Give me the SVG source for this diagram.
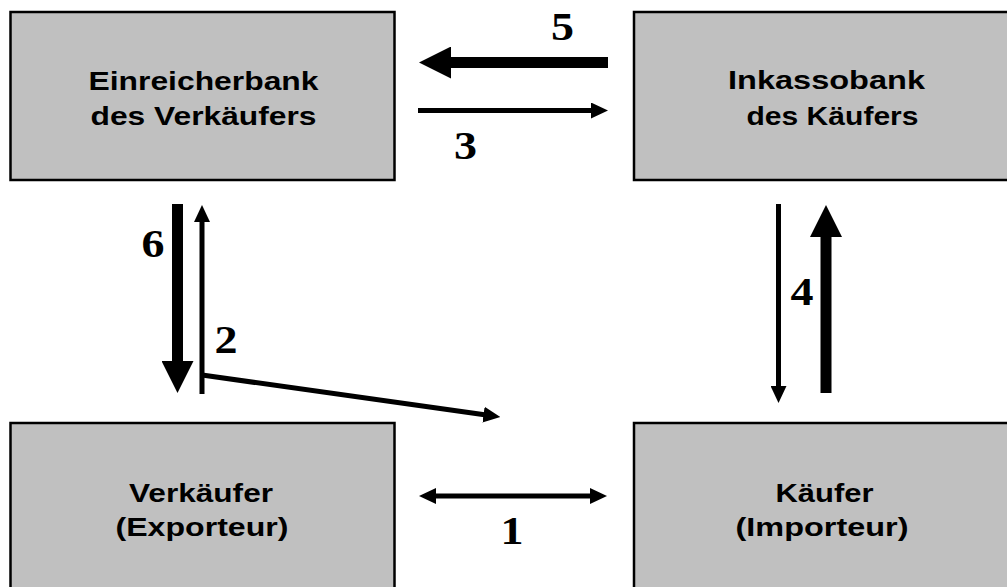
<svg xmlns="http://www.w3.org/2000/svg" width="1007" height="587" viewBox="0 0 1007 587">
  <style>
    .box { fill: #c0c0c0; stroke: #000; stroke-width: 2.5; }
    .lbl { font-family: "Liberation Sans", Arial, sans-serif; font-weight: bold; font-size: 26px; fill: #000; }
    .num { font-family: "Liberation Serif", "Times New Roman", serif; font-weight: bold; font-size: 40px; fill: #000; text-anchor: middle; }
    .thin { stroke: #000; stroke-width: 5; fill: none; }
    .thick { stroke: #000; stroke-width: 11; fill: none; }
  </style>
  <defs>
    <marker id="headThin" markerUnits="userSpaceOnUse" viewBox="0 -8 17 16" markerWidth="17" markerHeight="16" refX="1" refY="0" orient="auto-start-reverse">
      <path d="M0,-8 L17,0 L0,8 Z" fill="#000"/>
    </marker>
    <marker id="headThick" markerUnits="userSpaceOnUse" viewBox="0 -16 32 32" markerWidth="32" markerHeight="32" refX="1" refY="0" orient="auto-start-reverse">
      <path d="M0,-16 L32,0 L0,16 Z" fill="#000"/>
    </marker>
  </defs>
  <rect width="1007" height="587" fill="#fff"/>

  <g id="einreicherbank">
    <rect class="box" x="10.5" y="12" width="384" height="168"/>
    <text class="lbl" x="88.5" y="90" textLength="230" lengthAdjust="spacingAndGlyphs">Einreicherbank</text>
    <text class="lbl" x="90.5" y="125" textLength="226" lengthAdjust="spacingAndGlyphs">des Verkäufers</text>
  </g>

  <g id="inkassobank">
    <rect class="box" x="634" y="12" width="400" height="168"/>
    <text class="lbl" x="728" y="89" textLength="197" lengthAdjust="spacingAndGlyphs">Inkassobank</text>
    <text class="lbl" x="746.5" y="125" textLength="172" lengthAdjust="spacingAndGlyphs">des Käufers</text>
  </g>

  <g id="verkaeufer">
    <rect class="box" x="10.5" y="423" width="384" height="200"/>
    <text class="lbl" x="129" y="502" textLength="144" lengthAdjust="spacingAndGlyphs">Verkäufer</text>
    <text class="lbl" x="115.5" y="536" textLength="173" lengthAdjust="spacingAndGlyphs">(Exporteur)</text>
  </g>

  <g id="kaeufer">
    <rect class="box" x="634" y="423" width="400" height="200"/>
    <text class="lbl" x="775.5" y="502" textLength="98" lengthAdjust="spacingAndGlyphs">Käufer</text>
    <text class="lbl" x="735.5" y="536" textLength="173" lengthAdjust="spacingAndGlyphs">(Importeur)</text>
  </g>

  <g id="connectors">
    <!-- 1: contract between seller and buyer -->
    <line class="thin" x1="435" y1="496" x2="591" y2="496" marker-start="url(#headThin)" marker-end="url(#headThin)"/>
    <!-- 2: documents handed to the remitting bank, goods shipped -->
    <line class="thin" x1="202" y1="394" x2="202" y2="221" marker-end="url(#headThin)"/>
    <line class="thin" x1="202" y1="375" x2="484.5" y2="414.8" stroke-width="4.5" marker-end="url(#headThin)"/>
    <!-- 3: documents to the collecting bank -->
    <line class="thin" x1="418" y1="110.5" x2="592" y2="110.5" stroke-width="4.5" marker-end="url(#headThin)"/>
    <!-- 4: documents against payment -->
    <line class="thin" x1="778.5" y1="204" x2="778.5" y2="387" marker-end="url(#headThin)"/>
    <line class="thick" x1="826" y1="393" x2="826" y2="236" stroke-width="10" marker-end="url(#headThick)"/>
    <!-- 5: payment to the remitting bank -->
    <line class="thick" x1="608" y1="62.5" x2="450" y2="62.5" marker-end="url(#headThick)"/>
    <!-- 6: payment credited to the seller -->
    <line class="thick" x1="177.5" y1="204" x2="177.5" y2="362" marker-end="url(#headThick)"/>
  </g>

  <g id="step-numbers">
    <text class="num" x="562.5" y="40" textLength="23" lengthAdjust="spacingAndGlyphs">5</text>
    <text class="num" x="465.5" y="159" textLength="23" lengthAdjust="spacingAndGlyphs">3</text>
    <text class="num" x="153" y="257" textLength="23" lengthAdjust="spacingAndGlyphs">6</text>
    <text class="num" x="226" y="353" textLength="23" lengthAdjust="spacingAndGlyphs">2</text>
    <text class="num" x="802" y="305" textLength="23" lengthAdjust="spacingAndGlyphs">4</text>
    <text class="num" x="512" y="544" textLength="23" lengthAdjust="spacingAndGlyphs">1</text>
  </g>
</svg>
